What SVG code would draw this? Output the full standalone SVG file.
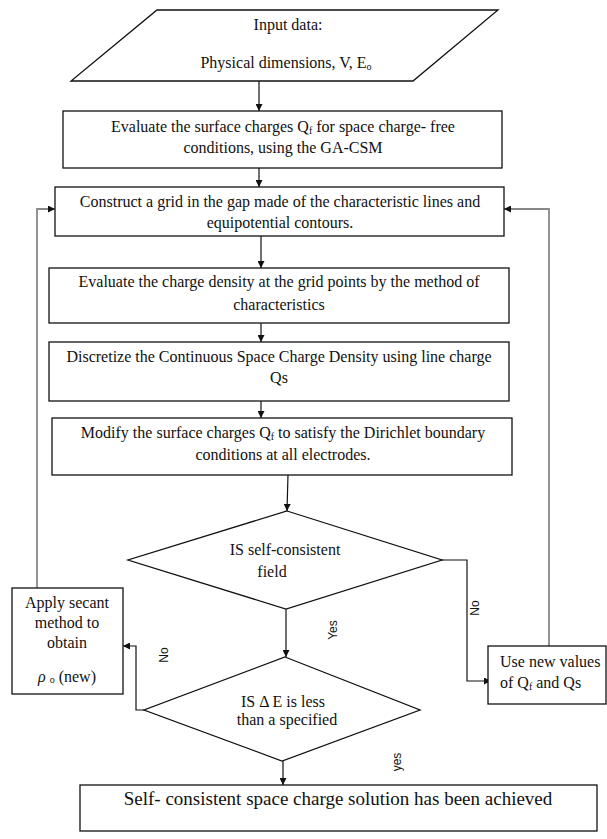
<svg xmlns="http://www.w3.org/2000/svg" width="607" height="839" viewBox="0 0 607 839">
<style>
.sh{fill:#fff;stroke:#111;stroke-width:1.3}
.t{font-family:"Liberation Serif","DejaVu Serif","Times New Roman",serif;font-size:16px;fill:#111;text-anchor:middle}
.tl{font-family:"Liberation Serif","DejaVu Serif","Times New Roman",serif;font-size:19px;fill:#111;text-anchor:middle}
.lb{font-family:"Liberation Sans",Arial,sans-serif;font-size:12px;fill:#111;text-anchor:middle}
.c{fill:none;stroke:#111;stroke-width:1.2}
.g{fill:none;stroke:#888;stroke-width:1.8}
.sub{font-size:10px}
</style>
<defs>
<marker id="ah" viewBox="0 0 10 10" refX="10" refY="5" markerWidth="7" markerHeight="7" markerUnits="userSpaceOnUse" orient="auto"><path d="M0,0 L10,5 L0,10 z" fill="#111"/></marker>
</defs>
<g id="connectors">
<path class="c" d="M259,81 V111" marker-end="url(#ah)"/>
<path class="c" d="M259,168 V187" marker-end="url(#ah)"/>
<path class="c" d="M261,236 V268" marker-end="url(#ah)"/>
<path class="c" d="M261,323 V342" marker-end="url(#ah)"/>
<path class="c" d="M261,401 V418" marker-end="url(#ah)"/>
<path class="c" d="M288,475 L287,511" marker-end="url(#ah)"/>
<path class="c" d="M286,609 V657" marker-end="url(#ah)"/>
<path class="c" d="M442,560 H467 V681 H491" marker-end="url(#ah)"/>
<path class="c" d="M144,710 H136 V646 H123" marker-end="url(#ah)"/>
<path class="c" d="M283,761 V785" marker-end="url(#ah)"/>
<path class="g" d="M37,588 V209 H55" marker-end="url(#ah)"/>
<path class="g" d="M549,646 V209 H504" marker-end="url(#ah)"/>
<text class="lb" transform="translate(337,630) rotate(-90)">Yes</text>
<text class="lb" transform="translate(479,608) rotate(-90)">No</text>
<text class="lb" transform="translate(168,655) rotate(-90)">No</text>
<text class="lb" transform="translate(401,762) rotate(-90)">yes</text>
</g>
<g id="input">
<polygon class="sh" points="157,10 498,10 413,81 71,81"/>
<text class="t" x="288" y="30">Input data:</text>
<text class="t" x="286" y="68">Physical dimensions, V, E<tspan class="sub" dy="2">o</tspan></text>
</g>
<g id="evaluate-qf">
<rect class="sh" x="63" y="111" width="439" height="57"/>
<text class="t" x="283" y="132">Evaluate the surface charges Q<tspan class="sub" dy="2">f</tspan><tspan dy="-2"> for space charge- free</tspan></text>
<text class="t" x="283" y="153">conditions, using the GA-CSM</text>
</g>
<g id="grid">
<rect class="sh" x="55" y="187" width="449" height="49"/>
<text class="t" x="280" y="207">Construct a grid in the gap made of the characteristic lines and</text>
<text class="t" x="280" y="228">equipotential contours.</text>
</g>
<g id="density">
<rect class="sh" x="49" y="268" width="460" height="55"/>
<text class="t" x="279" y="287">Evaluate the charge density at the grid points by the method of</text>
<text class="t" x="279" y="310">characteristics</text>
</g>
<g id="discretize">
<rect class="sh" x="49" y="342" width="460" height="59"/>
<text class="t" x="279" y="362">Discretize the Continuous Space Charge Density using line charge</text>
<text class="t" x="279" y="383">Qs</text>
</g>
<g id="modify">
<rect class="sh" x="52" y="418" width="460" height="57"/>
<text class="t" x="283" y="438">Modify the surface charges Q<tspan class="sub" dy="2">f</tspan><tspan dy="-2"> to satisfy the Dirichlet boundary</tspan></text>
<text class="t" x="283" y="460">conditions at all electrodes.</text>
</g>
<g id="decision-field">
<polygon class="sh" points="287,511 442,560 286,609 128,560"/>
<text class="t" x="285" y="555">IS self-consistent</text>
<text class="t" x="272" y="577">field</text>
</g>
<g id="secant">
<rect class="sh" x="12" y="588" width="111" height="106"/>
<text class="t" x="67" y="608">Apply secant</text>
<text class="t" x="67" y="628">method to</text>
<text class="t" x="67" y="648">obtain</text>
<text class="t" x="67" y="682"><tspan font-style="italic">ρ</tspan> <tspan class="sub" dy="1">o</tspan><tspan dy="-1"> (new)</tspan></text>
</g>
<g id="new-values">
<rect class="sh" x="488" y="646" width="118" height="58"/>
<text class="t" x="500" y="667" style="text-anchor:start">Use new values</text>
<text class="t" x="500" y="688" style="text-anchor:start">of Q<tspan class="sub" dy="2">f</tspan><tspan dy="-2"> and Qs</tspan></text>
</g>
<g id="decision-delta">
<polygon class="sh" points="285,657 420,710 282,761 144,710"/>
<text class="t" x="283" y="707">IS  Δ E is less</text>
<text class="t" x="287" y="725">than a specified</text>
</g>
<g id="solution">
<rect class="sh" x="80" y="785" width="517" height="46"/>
<text class="tl" x="338" y="805">Self- consistent space charge solution has been achieved</text>
</g>
</svg>
